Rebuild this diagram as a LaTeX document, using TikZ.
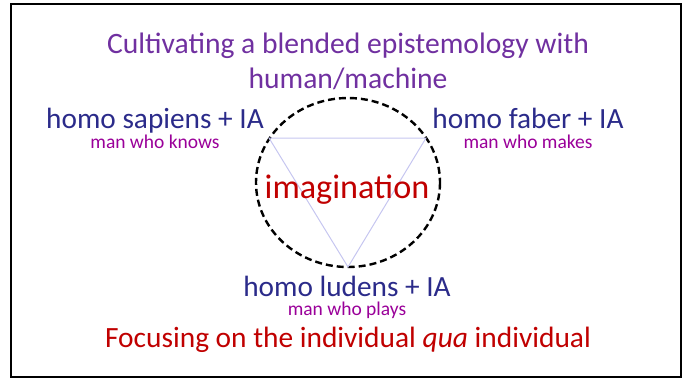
\documentclass[tikz,border=0pt]{standalone}
\usepackage{fontspec}
\setmainfont{Carlito}
\usepackage{xcolor}
\usepackage{tikz}
\usetikzlibrary{positioning,calc}
\definecolor{TitlePurple}{HTML}{7030A0}
\definecolor{HomoBlue}{HTML}{2B2B8A}
\definecolor{GlossMagenta}{HTML}{9A0099}
\definecolor{AccentRed}{HTML}{C00000}
\definecolor{TriLilac}{HTML}{C6C6F0}

\begin{document}
\begin{tikzpicture}[x=1pt,y=-1pt,
    every node/.style={inner sep=0pt, anchor=base},
    headline/.style={text=TitlePurple, font=\fontsize{29.6}{31}\selectfont},
    homo/.style={text=HomoBlue, font=\fontsize{29.3}{31}\selectfont},
    gloss/.style={text=GlossMagenta, font=\fontsize{19.5}{21}\selectfont}]
  \useasboundingbox (0,0) rectangle (685,381);
  \draw[line width=2.6pt] (11,4) rectangle (681,377);

  \node[headline] (title1) at (348,53) {Cultivating a blended epistemology with};
  \node[headline] (title2) at (348,88) {human/machine};

  % ring and triangle
  \draw[line width=2.4pt, dash pattern=on 7pt off 4pt] (348,182.5) ellipse [x radius=92, y radius=84.5];
  \coordinate (tl) at (269,138);
  \coordinate (tr) at (426,138);
  \coordinate (bt) at (348,267);
  \draw[TriLilac, line width=1pt] (tl) -- (tr) -- (bt) -- cycle;
  \node[text=AccentRed, font=\fontsize{34.2}{36}\selectfont] (imag) at (347,198) {imagination};

  \foreach \k/\g/\x/\y/\d/\n in {
    sapiens/knows/155/128/20/sap,
    faber/makes/528/128/20/fab,
    ludens/plays/347/296.5/19/lud%
  }{
    \node[homo] (h\n) at (\x,\y) {homo \k\ + IA};
    \node[gloss] (g\n) at (\x,\y+\d) {man who \g};
  }

  \node[text=AccentRed, font=\fontsize{29.4}{31}\selectfont] (focus) at (348,347.5)
    {Focusing on the individual \textit{qua} individual};
\end{tikzpicture}
\end{document}
